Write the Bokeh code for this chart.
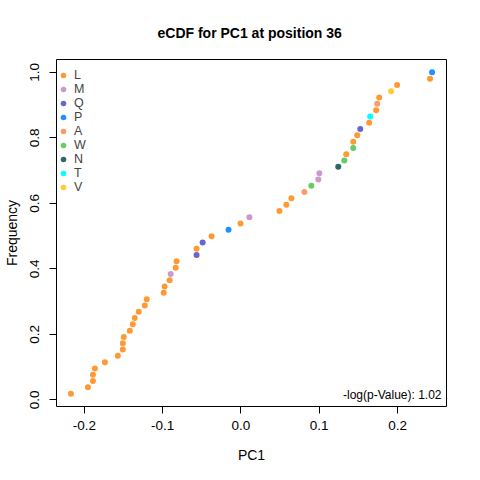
from bokeh.plotting import figure
from bokeh.models import FixedTicker, PrintfTickFormatter, Label, Legend, LegendItem, Range1d
from bokeh.embed import file_html
from bokeh.resources import INLINE

# PC1 values (sorted) and residue at each point
pc1 = [-0.2172, -0.1955, -0.1891, -0.1891, -0.1866, -0.1738, -0.1573, -0.1509, -0.1509, -0.1497,
       -0.1420, -0.1382, -0.1357, -0.1306, -0.1229, -0.1204, -0.0987, -0.0975, -0.0911, -0.0898,
       -0.0834, -0.0822, -0.0567, -0.0567, -0.0490, -0.0376, -0.0159, -0.0006, 0.0108, 0.0491,
       0.0580, 0.0644, 0.0810, 0.0899, 0.0988, 0.1001, 0.1243, 0.1320, 0.1345, 0.1434,
       0.1434, 0.1485, 0.1524, 0.1638, 0.1651, 0.1727, 0.1740, 0.1766, 0.1918, 0.1995,
       0.2415, 0.2441]
residue = ["L"] * 19 + ["M", "L", "L", "Q", "L", "Q", "L", "P", "L", "M", "L", "L", "L", "A", "W",
           "M", "M", "N", "W", "L", "W", "L", "L", "Q", "L", "T", "L", "A", "L", "V", "L", "L", "P"]
legend_order = ["L", "M", "Q", "P", "A", "W", "N", "T", "V"]
colors = {"L": "#FF9933", "M": "#CC99CC", "Q": "#6666CC", "P": "#1E90FF", "A": "#FF9966",
          "W": "#66CC66", "N": "#336666", "T": "#00FFFF", "V": "#FFCC33"}
x_ticks = [-0.2, -0.1, 0.0, 0.1, 0.2]
y_ticks = [0.0, 0.2, 0.4, 0.6, 0.8, 1.0]
title = "eCDF for PC1 at position 36"
pval_text = "-log(p-Value): 1.02"

n = len(pc1)
freq = [(i + 1) / n for i in range(n)]

FONT = "Liberation Sans"

xmin, xmax = min(pc1), max(pc1)
dx = (xmax - xmin) * 0.04
ymin, ymax = min(freq), max(freq)
dy = (ymax - ymin) * 0.04

p = figure(frame_width=390, frame_height=347, min_border_left=51, min_border_right=23,
           min_border_top=59, min_border_bottom=58, output_backend="svg", toolbar_location=None,
           x_range=Range1d(xmin - dx, xmax + dx), y_range=Range1d(ymin - dy, ymax + dy))

p.title.text = title
p.title.align = "left"
p.title.offset = 101
p.title.text_font = FONT
p.title.text_font_size = "14px"
p.title.text_font_style = "bold"
p.title.text_color = "black"
p.title.standoff = 37

p.grid.visible = False
p.outline_line_color = "black"
p.outline_line_width = 1
p.background_fill_color = "white"
p.border_fill_color = "white"

for ax in (p.xaxis[0], p.yaxis[0]):
    ax.axis_line_color = None
    ax.major_tick_in = 0
    ax.major_tick_out = 7
    ax.major_tick_line_color = "black"
    ax.minor_tick_line_color = None
    ax.major_label_text_font = FONT
    ax.major_label_text_font_size = "13.5px"
    ax.major_label_text_color = "black"
    ax.axis_label_text_font = FONT
    ax.axis_label_text_font_size = "14px"
    ax.axis_label_text_font_style = "normal"
    ax.axis_label_text_color = "black"
    ax.formatter = PrintfTickFormatter(format="%.1f")

p.xaxis.ticker = FixedTicker(ticks=x_ticks)
p.yaxis.ticker = FixedTicker(ticks=y_ticks)
p.xaxis.axis_label = "PC1"
p.yaxis.axis_label = "Frequency"
p.xaxis.major_label_standoff = 7
p.xaxis.axis_label_standoff = 14
p.yaxis.major_label_orientation = "vertical"
p.yaxis.major_label_standoff = 10
p.yaxis.axis_label_standoff = 8

items = []
for r in legend_order:
    xs = [x for x, res in zip(pc1, residue) if res == r]
    ys = [y for y, res in zip(freq, residue) if res == r]
    rend = p.scatter(xs, ys, size=6, color=colors[r], line_color=None, marker="circle")
    items.append(LegendItem(label=r, renderers=[rend]))

legend = Legend(items=items, location=(0, 212), padding=2, margin=0, spacing=0,
                glyph_width=14, glyph_height=14, label_height=14, label_standoff=4,
                label_text_font=FONT, label_text_font_size="12.5px", label_text_line_height=0.9,
                border_line_color=None, background_fill_alpha=0)
p.add_layout(legend, "center")

p.add_layout(Label(x=385, y=12, x_units="screen", y_units="screen", text=pval_text,
                   text_align="right", text_baseline="middle", text_font=FONT,
                   text_font_size="12px", text_color="black"))

open("out.html", "w").write(file_html(p, INLINE))
